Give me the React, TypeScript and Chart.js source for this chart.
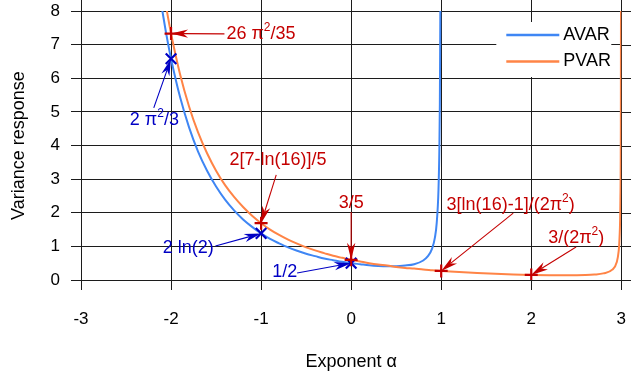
import React, { useEffect, useRef } from "react";
import { Chart, registerables } from "chart.js";

Chart.register(...registerables);

// ---- data ----
const seriesNames = ["AVAR", "PVAR"];
const xTitle = "Exponent α";
const yTitle = "Variance response";
const xTicks = [-3, -2, -1, 0, 1, 2, 3];
const yTicks = [0, 1, 2, 3, 4, 5, 6, 7, 8];

const alphaAvar = [-2.1, -2.05, -2.0, -1.9, -1.8, -1.7, -1.6, -1.5, -1.4, -1.3, -1.2, -1.1, -1.0, -0.9, -0.8, -0.7, -0.6, -0.5, -0.4, -0.3, -0.2, -0.1, 0, 0.1, 0.2, 0.3, 0.4, 0.5, 0.6, 0.7, 0.8, 0.85, 0.9, 0.93, 0.95, 0.97, 0.98, 0.985, 0.99, 0.992];
const avar = [8.06, 7.27, 6.58, 5.44, 4.54, 3.82, 3.25, 2.78, 2.39, 2.07, 1.80, 1.58, 1.386, 1.22, 1.09, 0.97, 0.87, 0.78, 0.71, 0.64, 0.59, 0.54, 0.50, 0.47, 0.44, 0.42, 0.41, 0.41, 0.43, 0.47, 0.58, 0.70, 0.94, 1.26, 1.69, 2.70, 3.97, 5.23, 7.77, 9.67];

const alphaPvar = [-2.1, -2.05, -2.0, -1.9, -1.8, -1.7, -1.6, -1.5, -1.4, -1.3, -1.2, -1.1, -1.0, -0.9, -0.8, -0.7, -0.6, -0.5, -0.4, -0.3, -0.2, -0.1, 0, 0.1, 0.2, 0.3, 0.4, 0.5, 0.6, 0.7, 0.8, 0.9, 1.0, 1.2, 1.4, 1.6, 1.8, 2.0, 2.2, 2.4, 2.5, 2.6, 2.7, 2.8, 2.9, 2.95, 2.97, 2.98, 2.99, 2.995, 2.998];
const pvar = [8.89, 8.06, 7.33, 6.12, 5.16, 4.39, 3.77, 3.25, 2.82, 2.47, 2.17, 1.91, 1.69, 1.50, 1.34, 1.20, 1.08, 0.97, 0.88, 0.80, 0.72, 0.66, 0.60, 0.55, 0.50, 0.46, 0.43, 0.39, 0.36, 0.34, 0.31, 0.29, 0.269, 0.235, 0.207, 0.184, 0.166, 0.152, 0.143, 0.139, 0.141, 0.147, 0.162, 0.196, 0.307, 0.536, 0.843, 1.23, 2.38, 4.69, 11.7];

const plusAlpha = [-2, -1, 0, 1, 2];
const plusValue = [7.33, 1.69, 0.6, 0.269, 0.152];
const crossAlpha = [-2, -1, 0];
const crossValue = [6.58, 1.386, 0.5];

const annoLabels = ["26 π^2/35", "2 π^2/3", "2[7-ln(16)]/5", "2 ln(2)", "1/2", "3/5", "3[ln(16)-1]/(2π^2)", "3/(2π^2)"];

// ---- layout / style of the annotations (data coordinates) ----
const RED = "#c40000";
const BLUE = "#0000c4";
type Anno = { color: string; tx: number; ty: number; align: "left" | "center"; sx: number; sy: number; target: ["plus" | "cross", number] };
const annoLayout: Anno[] = [
  { color: RED, tx: -1.385, ty: 7.32, align: "left", sx: -1.407, sy: 7.32, target: ["plus", 0] },
  { color: BLUE, tx: -2.458, ty: 4.76, align: "left", sx: -2.192, sy: 5.12, target: ["cross", 0] },
  { color: RED, tx: -1.352, ty: 3.57, align: "left", sx: -0.832, sy: 3.125, target: ["plus", 1] },
  { color: BLUE, tx: -2.093, ty: 0.95, align: "left", sx: -1.507, sy: 1.01, target: ["cross", 1] },
  { color: BLUE, tx: -0.876, ty: 0.24, align: "left", sx: -0.6, sy: 0.21, target: ["cross", 2] },
  { color: RED, tx: 0, ty: 2.29, align: "center", sx: 0, sy: 2.02, target: ["plus", 2] },
  { color: RED, tx: 1.06, ty: 2.23, align: "left", sx: 1.8, sy: 1.99, target: ["plus", 3] },
  { color: RED, tx: 2.188, ty: 1.25, align: "left", sx: 2.498, sy: 0.98, target: ["plus", 4] },
];

const FONT = "'Liberation Sans', Arial, Helvetica, sans-serif";
const AVAR_COLOR = "#3f86f4";
const PVAR_COLOR = "#ff8446";
const GRID = "#1c1c1c";

function parseRich(text: string) {
  const parts: { s: string; sup: boolean }[] = [];
  let buf = "";
  for (let i = 0; i < text.length; i++) {
    if (text[i] === "^" && i + 1 < text.length) {
      if (buf) parts.push({ s: buf, sup: false });
      buf = "";
      parts.push({ s: text[i + 1], sup: true });
      i++;
    } else buf += text[i];
  }
  if (buf) parts.push({ s: buf, sup: false });
  return parts;
}

function drawRich(ctx: CanvasRenderingContext2D, text: string, x: number, y: number, size: number, color: string, align: "left" | "center") {
  const parts = parseRich(text);
  const supSize = Math.round(size * 0.68);
  let w = 0;
  for (const p of parts) {
    ctx.font = `${p.sup ? supSize : size}px ${FONT}`;
    w += ctx.measureText(p.s).width;
  }
  let cx = align === "center" ? x - w / 2 : x;
  ctx.fillStyle = color;
  ctx.textBaseline = "middle";
  ctx.textAlign = "left";
  for (const p of parts) {
    ctx.font = `${p.sup ? supSize : size}px ${FONT}`;
    ctx.fillText(p.s, cx, p.sup ? y - size * 0.36 : y);
    cx += ctx.measureText(p.s).width;
  }
}

function drawArrow(ctx: CanvasRenderingContext2D, x0: number, y0: number, x1: number, y1: number, color: string) {
  const ang = Math.atan2(y1 - y0, x1 - x0);
  const L = 17, W = 4.2, N = 12;
  const ux = Math.cos(ang), uy = Math.sin(ang);
  ctx.strokeStyle = color;
  ctx.fillStyle = color;
  ctx.lineWidth = 1.1;
  ctx.beginPath();
  ctx.moveTo(x0, y0);
  ctx.lineTo(x1 - ux * N, y1 - uy * N);
  ctx.stroke();
  const bx = x1 - ux * L, by = y1 - uy * L;
  const nx = -uy, ny = ux;
  ctx.beginPath();
  ctx.moveTo(x1, y1);
  ctx.lineTo(bx + nx * W, by + ny * W);
  ctx.lineTo(x1 - ux * N, y1 - uy * N);
  ctx.lineTo(bx - nx * W, by - ny * W);
  ctx.closePath();
  ctx.fill();
}

const extrasPlugin = {
  id: "extras",
  beforeDatasetsDraw(chart: any) {
    const { ctx, chartArea: ca, scales } = chart;
    ctx.save();
    ctx.strokeStyle = GRID;
    ctx.lineWidth = 1;
    for (const v of xTicks) {
      const px = Math.round(scales.x.getPixelForValue(v)) + 0.5;
      ctx.beginPath();
      ctx.moveTo(px, ca.top - 11);
      ctx.lineTo(px, ca.top);
      ctx.stroke();
    }
    for (const v of yTicks) {
      const py = Math.round(scales.y.getPixelForValue(v)) + 0.5;
      ctx.beginPath();
      ctx.moveTo(ca.right, py);
      ctx.lineTo(ca.right + 10, py);
      ctx.stroke();
    }
    // legend box
    const lx = ca.right - 125, ly = ca.top + 11;
    ctx.fillStyle = "#ffffff";
    ctx.fillRect(lx, ly, 115, 55);
    const colors = [AVAR_COLOR, PVAR_COLOR];
    seriesNames.forEach((name, i) => {
      const yy = ly + 13 + i * 26.5;
      ctx.strokeStyle = colors[i];
      ctx.lineWidth = 2.5;
      ctx.beginPath();
      ctx.moveTo(lx + 10, yy);
      ctx.lineTo(lx + 63, yy);
      ctx.stroke();
      ctx.fillStyle = "#000";
      ctx.font = `18px ${FONT}`;
      ctx.textAlign = "left";
      ctx.textBaseline = "middle";
      ctx.fillText(name, lx + 67, yy);
    });
    ctx.restore();
  },
  afterDatasetsDraw(chart: any) {
    const { ctx, scales } = chart;
    ctx.save();
    annoLayout.forEach((a, i) => {
      const [kind, idx] = a.target;
      const tX = kind === "plus" ? plusAlpha[idx] : crossAlpha[idx];
      const tY = kind === "plus" ? plusValue[idx] : crossValue[idx];
      const x1 = scales.x.getPixelForValue(tX);
      const y1 = scales.y.getPixelForValue(tY);
      const x0 = scales.x.getPixelForValue(a.sx);
      const y0 = scales.y.getPixelForValue(a.sy);
      drawArrow(ctx, x0, y0, x1, y1, a.color);
      drawRich(ctx, annoLabels[i], scales.x.getPixelForValue(a.tx), scales.y.getPixelForValue(a.ty), 18, a.color, a.align);
    });
    ctx.restore();
  },
};

export default function App() {
  const ref = useRef<HTMLCanvasElement | null>(null);
  useEffect(() => {
    document.body.style.margin = "0";
    const canvas = ref.current!;
    Chart.defaults.font.family = FONT;
    const chart = new Chart(canvas, {
      type: "line",
      data: {
        datasets: [
          {
            type: "scatter",
            data: plusAlpha.map((a, i) => ({ x: a, y: plusValue[i] })),
            pointStyle: "cross",
            pointRadius: 6.5,
            pointBorderWidth: 2.2,
            borderColor: RED,
            backgroundColor: RED,
            showLine: false,
          } as any,
          {
            type: "scatter",
            data: crossAlpha.map((a, i) => ({ x: a, y: crossValue[i] })),
            pointStyle: "crossRot",
            pointRadius: 7.5,
            pointBorderWidth: 2.2,
            borderColor: BLUE,
            backgroundColor: BLUE,
            showLine: false,
          } as any,
          {
            label: seriesNames[1],
            data: alphaPvar.map((a, i) => ({ x: a, y: pvar[i] })),
            borderColor: PVAR_COLOR,
            borderWidth: 2,
            pointRadius: 0,
            cubicInterpolationMode: "monotone",
            fill: false,
            clip: 0,
          } as any,
          {
            label: seriesNames[0],
            data: alphaAvar.map((a, i) => ({ x: a, y: avar[i] })),
            borderColor: AVAR_COLOR,
            borderWidth: 2,
            pointRadius: 0,
            cubicInterpolationMode: "monotone",
            fill: false,
            clip: 0,
          } as any,
        ],
      },
      options: {
        responsive: false,
        animation: false,
        devicePixelRatio: 1,
        layout: { padding: { top: 11, right: 7, left: 0, bottom: 0 } },
        plugins: { legend: { display: false }, tooltip: { enabled: false } },
        scales: {
          x: {
            type: "linear",
            min: -3,
            max: 3,
            afterBuildTicks: (s: any) => {
              s.ticks = xTicks.map((v) => ({ value: v }));
            },
            afterFit: (s: any) => {
              s.height = 99;
              s.paddingLeft = 0;
              s.paddingRight = 0;
              s.paddingTop = 0;
              s.paddingBottom = 0;
            },
            ticks: { font: { size: 17 }, color: "#000", padding: 19, maxRotation: 0, autoSkip: false },
            grid: { color: GRID, lineWidth: 1, tickLength: 10 },
            border: { color: GRID },
            title: { display: true, text: xTitle, font: { size: 18 }, color: "#000", padding: { top: 0, bottom: 6 } },
          },
          y: {
            type: "linear",
            min: 0,
            max: 8,
            afterBuildTicks: (s: any) => {
              s.ticks = yTicks.map((v) => ({ value: v }));
            },
            afterFit: (s: any) => {
              s.width = 81;
              s.paddingLeft = 0;
              s.paddingRight = 0;
              s.paddingTop = 0;
              s.paddingBottom = 0;
            },
            ticks: { font: { size: 17 }, color: "#000", padding: 11, autoSkip: false },
            grid: { color: GRID, lineWidth: 1, tickLength: 10 },
            border: { color: GRID },
            title: { display: true, text: yTitle, font: { size: 18 }, color: "#000", padding: { top: 8, bottom: 0 } },
          },
        },
      } as any,
      plugins: [extrasPlugin],
    });
    return () => chart.destroy();
  }, []);
  return (
    <div style={{ position: "absolute", left: 0, top: 0, width: 631, height: 379, background: "#fff" }}>
      <canvas ref={ref} width={631} height={379} style={{ display: "block" }} />
    </div>
  );
}
